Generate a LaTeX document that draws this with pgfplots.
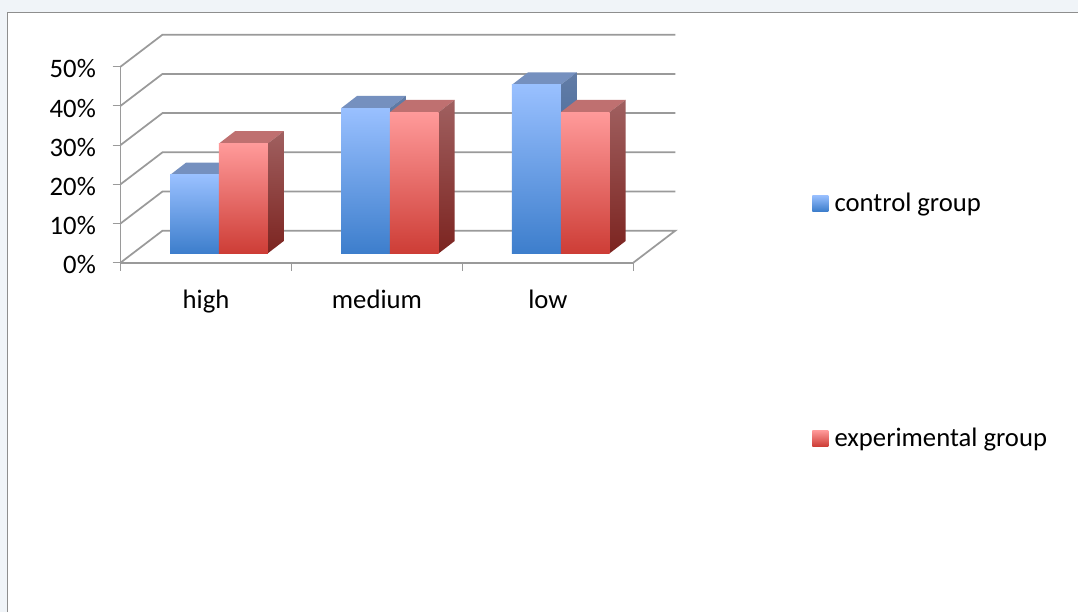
\documentclass[border=0pt]{standalone}
\usepackage{pgfplots}
\pgfplotsset{compat=1.18}
\usepackage{fontspec}
\setmainfont{Carlito}
\definecolor{pagebg}{HTML}{F0F4F8}
\definecolor{frameline}{HTML}{8E8E8E}
\definecolor{wall}{HTML}{9A9A9A}
\definecolor{bluetop}{HTML}{99C0FF}
\definecolor{bluemid}{HTML}{78A2E6}
\definecolor{bluebot}{HTML}{3D7ECC}
\definecolor{bluecap}{HTML}{7590BF}
\definecolor{blueside}{HTML}{627CA6}
\definecolor{bluesidebot}{HTML}{2A5A90}
\definecolor{redtop}{HTML}{FF9A9A}
\definecolor{redmid}{HTML}{E87370}
\definecolor{redbot}{HTML}{CD3D36}
\definecolor{redcap}{HTML}{BF7070}
\definecolor{redside}{HTML}{A06060}
\definecolor{redsidebot}{HTML}{7C2420}
\pgfplotsset{
  floorwall/.style={draw=wall, line width=1.3pt, no markers, forget plot},
  frontblue/.style={ybar, bar width=0.2857, bar shift=-0.1429, draw=none, shade, top color=bluetop, middle color=bluemid, bottom color=bluebot, forget plot},
  frontred/.style={ybar, bar width=0.2857, bar shift=0.1429, draw=none, shade, top color=redtop, middle color=redmid, bottom color=redbot, forget plot},
  capblue/.style={draw=none, fill=bluecap, no markers, forget plot},
  capred/.style={draw=none, fill=redcap, no markers, forget plot},
  sideblue/.style={draw=none, shade, top color=blueside, bottom color=bluesidebot, no markers, forget plot},
  sidered/.style={draw=none, shade, top color=redside, bottom color=redsidebot, no markers, forget plot},
}
\begin{document}
\begin{tikzpicture}
  % sheet behind the chart
  \path[use as bounding box, fill=pagebg] (0pt,0pt) rectangle (808.5pt,459pt);
  \fill[white] (5.6pt,0pt) rectangle (808.5pt,449.6pt);
  \draw[frameline, line width=0.75pt] (5.6pt,0pt) -- (5.6pt,449.6pt) -- (808.5pt,449.6pt);

  % walls, floor and value scale
  \begin{axis}[
    at={(90.4pt,262pt)}, anchor=south west,
    scale only axis, width=384.6pt, height=147pt,
    xmin=0, xmax=3, ymin=0, ymax=50,
    clip=false,
    axis x line=bottom, axis y line=left,
    axis line style={draw=wall, line width=1.3pt, -},
    xtick={0,1,2,3},
    xticklabels={high,medium,low},
    x tick label as interval,
    ytick={0,10,20,30,40,50},
    yticklabel={\pgfmathprintnumber{\tick}\%},
    /pgf/number format/assume math mode=true,
    tick align=outside,
    major tick length=6pt,
    tick style={draw=wall, line width=0.8pt},
    tick label style={font=\fontsize{20}{22}\selectfont, text=black},
    yticklabel style={xshift=-9pt, yshift=-1.7pt},
    xticklabel style={yshift=-11pt},
    legend cell align=left,
    legend style={
      at={(axis cs:4.022,19.24)}, anchor=north west,
      draw=none, fill=none,
      font=\fontsize{20}{22}\selectfont,
      row sep=157pt,
    },
  ]
    \addplot[floorwall] coordinates {(0,0) (0.2456,8.16) (3.2456,8.16) (3,0)};
    \addplot[floorwall] coordinates {(0,10) (0.2456,18.16) (3.2456,18.16)};
    \addplot[floorwall] coordinates {(0,20) (0.2456,28.16) (3.2456,28.16)};
    \addplot[floorwall] coordinates {(0,30) (0.2456,38.16) (3.2456,38.16)};
    \addplot[floorwall] coordinates {(0,40) (0.2456,48.16) (3.2456,48.16)};
    \addplot[floorwall] coordinates {(0,50) (0.2456,58.16) (3.2456,58.16)};
    \addlegendimage{legend image code/.code={
      \path[draw=none, shade, top color=bluetop, middle color=bluemid, bottom color=bluebot] (0pt,-6pt) rectangle (12pt,6pt);
      \path (14.5pt,0pt);}}
    \addlegendentry{control group}
    \addlegendimage{legend image code/.code={
      \path[draw=none, shade, top color=redtop, middle color=redmid, bottom color=redbot] (0pt,-6pt) rectangle (12pt,6pt);
      \path (14.5pt,0pt);}}
    \addlegendentry{experimental group}
  \end{axis}

  % bars stand on a plane set back from the front of the floor
  \begin{axis}[
    at={(100.1pt,269pt)}, anchor=south west,
    scale only axis, width=384.6pt, height=147pt,
    xmin=0, xmax=3, ymin=0, ymax=50,
    clip=false, hide axis,
  ]
    % high
    \addplot[capblue] coordinates {(0.2143,20) (0.3079,23.15) (0.5936,23.15) (0.5,20)} --cycle;
    \addplot[sideblue] coordinates {(0.5,0) (0.5936,3.15) (0.5936,23.15) (0.5,20)} --cycle;
    \addplot[frontblue] coordinates {(0.5,20)};
    \addplot[capred] coordinates {(0.5,28) (0.5936,31.15) (0.8793,31.15) (0.7857,28)} --cycle;
    \addplot[sidered] coordinates {(0.7857,0) (0.8793,3.15) (0.8793,31.15) (0.7857,28)} --cycle;
    \addplot[frontred] coordinates {(0.5,28)};
    % medium
    \addplot[capblue] coordinates {(1.2143,37) (1.3079,40.15) (1.5936,40.15) (1.5,37)} --cycle;
    \addplot[sideblue] coordinates {(1.5,0) (1.5936,3.15) (1.5936,40.15) (1.5,37)} --cycle;
    \addplot[frontblue] coordinates {(1.5,37)};
    \addplot[capred] coordinates {(1.5,36) (1.5936,39.15) (1.8793,39.15) (1.7857,36)} --cycle;
    \addplot[sidered] coordinates {(1.7857,0) (1.8793,3.15) (1.8793,39.15) (1.7857,36)} --cycle;
    \addplot[frontred] coordinates {(1.5,36)};
    % low
    \addplot[capblue] coordinates {(2.2143,43) (2.3079,46.15) (2.5936,46.15) (2.5,43)} --cycle;
    \addplot[sideblue] coordinates {(2.5,0) (2.5936,3.15) (2.5936,46.15) (2.5,43)} --cycle;
    \addplot[frontblue] coordinates {(2.5,43)};
    \addplot[capred] coordinates {(2.5,36) (2.5936,39.15) (2.8793,39.15) (2.7857,36)} --cycle;
    \addplot[sidered] coordinates {(2.7857,0) (2.8793,3.15) (2.8793,39.15) (2.7857,36)} --cycle;
    \addplot[frontred] coordinates {(2.5,36)};
  \end{axis}
\end{tikzpicture}
\end{document}
